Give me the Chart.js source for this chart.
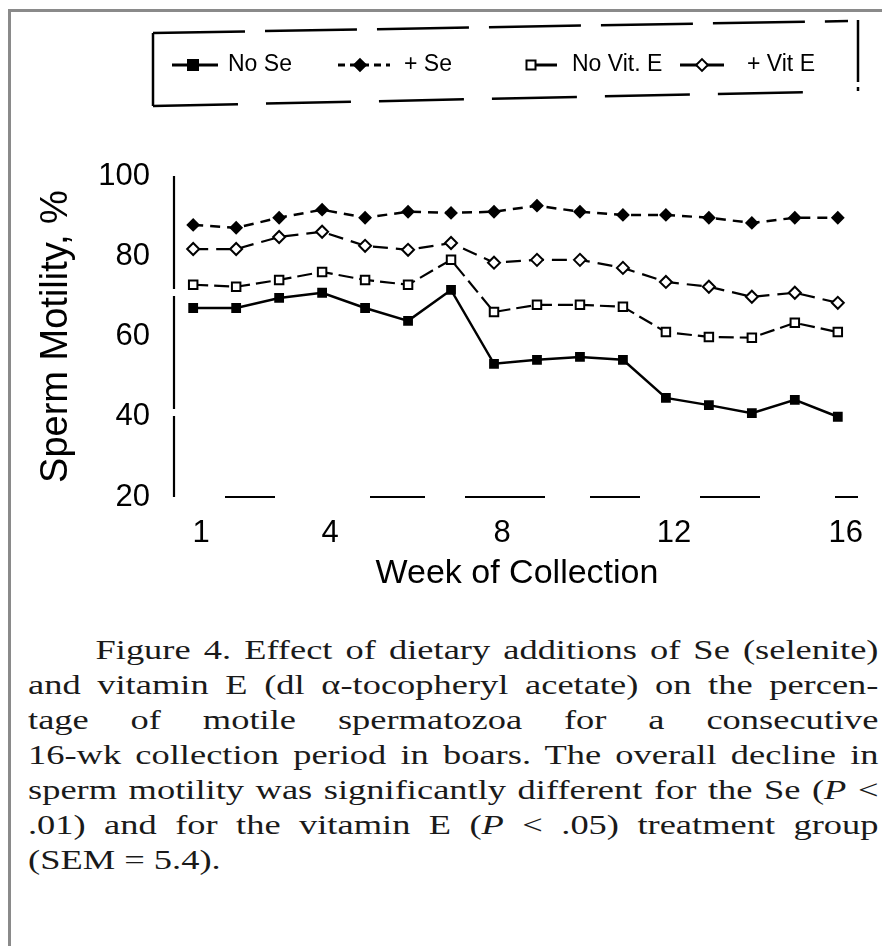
<!DOCTYPE html>
<html>
<head>
<meta charset="utf-8">
<script src="https://cdn.jsdelivr.net/npm/chart.js@4.4.1/dist/chart.umd.min.js"></script>
<style>
html,body{margin:0;padding:0;background:#fff;}
body{width:882px;height:946px;position:relative;overflow:hidden;}
#frame{position:absolute;left:8px;top:9px;width:940px;height:1000px;border-left:3px solid #8a8a8a;border-top:3px solid #8a8a8a;}
#wrap{position:absolute;left:0;top:0;width:882px;height:600px;}
#cap{position:absolute;left:28px;top:633px;width:630px;transform:scaleX(1.35);transform-origin:0 0;
 font-family:'Liberation Serif','Times New Roman',serif;font-size:27px;line-height:35px;color:#1a1a1a;}
#cap .j{text-align:justify;text-align-last:justify;}
#cap .first{text-indent:50px;}
</style>
</head>
<body>
<div id="frame"></div>
<div id="wrap"><canvas id="c" width="882" height="600"></canvas></div>
<div id="cap">
<div class="j first">Figure 4. Effect of dietary additions of Se (selenite)</div>
<div class="j">and vitamin E (dl α-tocopheryl acetate) on the percen-</div>
<div class="j">tage of motile spermatozoa for a consecutive</div>
<div class="j">16-wk collection period in boars. The overall decline in</div>
<div class="j">sperm motility was significantly different for the Se (<i>P</i> &lt;</div>
<div class="j">.01) and for the vitamin E (<i>P</i> &lt; .05) treatment group</div>
<div>(SEM = 5.4).</div>
</div>
<script>
// ---- data ----
const weeks = [1,2,3,4,5,6,7,8,9,10,11,12,13,14,15,16];
const noSe     = [67.1,67.1,69.6,70.9,67.1,63.9,71.6,53.2,54.2,54.9,54.2,44.7,42.9,40.9,44.2,40.0];
const plusSe   = [87.8,87.1,89.6,91.6,89.6,91.1,90.8,91.1,92.6,91.1,90.3,90.3,89.6,88.3,89.6,89.6];
const noVitE   = [72.9,72.4,74.1,76.1,74.1,72.9,79.1,66.1,67.9,67.9,67.4,61.1,59.9,59.7,63.4,61.1];
const plusVitE = [81.8,81.8,84.8,86.1,82.6,81.6,83.3,78.4,79.1,79.1,77.1,73.6,72.4,69.9,70.9,68.4];
const seriesLabels = ['No Se','+ Se','No Vit. E','+ Vit E'];
const xTickWeeks = [1,4,8,12,16];
const yTickValues = [20,40,60,80,100];
const xTitle = 'Week of Collection';
const yTitle = 'Sperm Motility, %';

const SANS = "'Liberation Sans', Arial, Helvetica, sans-serif";
const toXY = arr => arr.map((v,i)=>({x:weeks[i], y:v}));

const styles = [
  {pointStyle:'rect',    radius:5.5, fill:'#000', dash:[],      width:2.5},
  {pointStyle:'rectRot', radius:5.5, fill:'#000', dash:[10,7],  width:2.5},
  {pointStyle:'rect',    radius:6,   fill:'#fff', dash:[15,6],  width:2.2},
  {pointStyle:'rectRot', radius:6,   fill:'#fff', dash:[15,8],  width:2.2}
];
const seriesData = [noSe, plusSe, noVitE, plusVitE];

const datasets = seriesData.map((arr,i)=>({
  label: seriesLabels[i],
  data: toXY(arr),
  borderColor:'#000',
  borderWidth: styles[i].width,
  borderDash: styles[i].dash,
  pointStyle: styles[i].pointStyle,
  pointRadius: styles[i].radius,
  pointBackgroundColor: styles[i].fill,
  pointBorderColor:'#000',
  pointBorderWidth: 2,
  tension: 0,
  fill:false
}));

// legend layout (decoration)
const legendItems = [
  {x0:172, x1:218, mx:193, tx:228},
  {x0:338, x1:390, mx:360, tx:404},
  {x0:527, x1:557, mx:531, tx:572},
  {x0:680, x1:724, mx:702, tx:747}
];
const legendY = 65;

function drawMarker(ctx, style, r, x, y, fill){
  ctx.save();
  ctx.fillStyle = fill; ctx.strokeStyle = '#000'; ctx.lineWidth = 2; ctx.setLineDash([]);
  ctx.beginPath();
  if (style === 'rect') { ctx.rect(x-r, y-r, 2*r, 2*r); }
  else { ctx.moveTo(x, y-r*1.3); ctx.lineTo(x+r*1.3, y); ctx.lineTo(x, y+r*1.3); ctx.lineTo(x-r*1.3, y); ctx.closePath(); }
  ctx.fill(); ctx.stroke();
  ctx.restore();
}

const decoPlugin = {
  id:'deco',
  afterDraw(chart){
    const ctx = chart.ctx, a = chart.chartArea;
    ctx.save();
    // axis lines (broken, as in the scan)
    ctx.strokeStyle = '#000'; ctx.lineWidth = 2.2; ctx.lineCap='butt';
    ctx.setLineDash([113,7]);
    ctx.beginPath(); ctx.moveTo(a.left-2, a.top); ctx.lineTo(a.left-2, a.bottom); ctx.stroke();
    ctx.setLineDash([50,95,55,40,80,45,50,60,60,75,23,49]);
    ctx.lineDashOffset = 633;
    ctx.beginPath(); ctx.moveTo(a.left, a.bottom); ctx.lineTo(a.right, a.bottom); ctx.stroke();
    ctx.lineDashOffset = 0;
    // legend frame
    ctx.lineWidth = 2.5;
    ctx.setLineDash([92,20]);
    ctx.beginPath(); ctx.moveTo(153,33); ctx.lineTo(848,21); ctx.stroke();
    ctx.setLineDash([85,28]);
    ctx.beginPath(); ctx.moveTo(153,106); ctx.lineTo(810,92); ctx.stroke();
    ctx.setLineDash([]);
    ctx.beginPath(); ctx.moveTo(153,33); ctx.lineTo(153,106); ctx.stroke();
    ctx.beginPath(); ctx.moveTo(858,20); ctx.lineTo(858,82); ctx.stroke();
    ctx.beginPath(); ctx.moveTo(858,87); ctx.lineTo(858,91); ctx.stroke();
    // legend entries
    chart.data.datasets.forEach((ds,i)=>{
      const L = legendItems[i];
      ctx.save();
      ctx.strokeStyle = '#000'; ctx.lineWidth = 3;
      ctx.setLineDash(i===1 ? [7,5] : []);
      ctx.beginPath(); ctx.moveTo(L.x0, legendY); ctx.lineTo(L.x1, legendY); ctx.stroke();
      ctx.restore();
      drawMarker(ctx, ds.pointStyle, i===0?5:4.5, L.mx, legendY, ds.pointBackgroundColor);
      ctx.fillStyle = '#000';
      ctx.font = '23px ' + SANS;
      ctx.textBaseline = 'middle'; ctx.textAlign = 'left';
      ctx.fillText(ds.label, L.tx, legendY);
    });
    ctx.restore();
  }
};

new Chart(document.getElementById('c'), {
  type:'line',
  data:{datasets},
  plugins:[decoPlugin],
  options:{
    responsive:false,
    animation:false,
    devicePixelRatio:1,
    layout:{padding:{top:176,right:24,bottom:0,left:0}},
    plugins:{legend:{display:false}, tooltip:{enabled:false}},
    scales:{
      x:{
        type:'linear', min:0.6, max:16.47,
        afterBuildTicks(s){ s.ticks = xTickWeeks.map(v=>({value:v})); },
        afterFit(s){ s.height = 103; },
        grid:{display:false, drawTicks:false},
        border:{display:false},
        ticks:{font:{family:SANS, size:31}, color:'#000', padding:18, labelOffset:8, maxRotation:0,
               callback:v=>String(v)},
        title:{display:true, text:xTitle, font:{family:SANS, size:34}, color:'#000', padding:{top:0,bottom:6}}
      },
      y:{
        min:20, max:100,
        afterBuildTicks(s){ s.ticks = yTickValues.map(v=>({value:v})); },
        afterFit(s){ s.width = 176; },
        grid:{display:false, drawTicks:false},
        border:{display:false},
        ticks:{font:{family:SANS, size:31}, color:'#000', padding:26},
        title:{display:true, text:yTitle, font:{family:SANS, size:38}, color:'#000', padding:{top:34,bottom:0}}
      }
    }
  }
});
</script>
</body>
</html>
